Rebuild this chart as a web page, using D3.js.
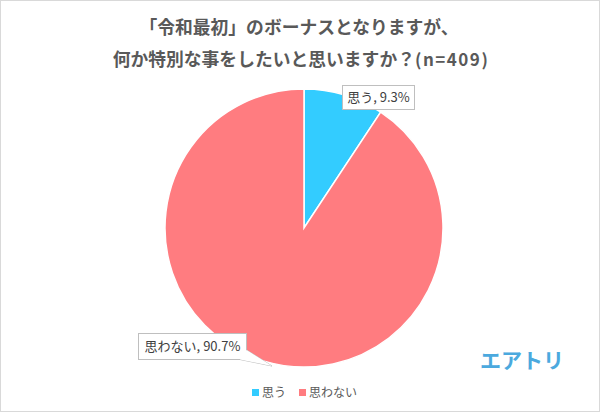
<!DOCTYPE html>
<html><head><meta charset="utf-8">
<script src="https://cdn.jsdelivr.net/npm/d3@7"></script>
<style>body{margin:0;background:#fff}svg{display:block}text{font-family:"Noto Sans CJK JP","Noto Sans",sans-serif}</style>
</head><body><svg id="c" width="601" height="413"></svg>
<script>
const categories = ["思う", "思わない"];
const values = [9.3, 90.7];
const colors = ["#33CCFF", "#FF7C80"];
const titleLines = ["「令和最初」のボーナスとなりますが、", "何か特別な事をしたいと思いますか？"];
const sampleNote = "(n=409)";

const svg = d3.select("#c");
svg.append("rect").attr("x",0.5).attr("y",0.5).attr("width",599).attr("height",411)
  .attr("fill","#fff").attr("stroke","#d9d9d9");

// title
svg.append("text").attr("x",299).attr("y",34).attr("text-anchor","middle")
  .attr("font-size",17.8).attr("font-weight","bold").attr("fill","#595959").text(titleLines[0]);
const t2 = svg.append("text").attr("x",301).attr("y",66).attr("text-anchor","middle")
  .attr("font-weight","bold").attr("fill","#595959");
t2.append("tspan").attr("font-size",17.8).text(titleLines[1]);
t2.append("tspan").attr("font-size",17).attr("letter-spacing",1.5).text(sampleNote);

const cx = 304, cy = 228, r = 139;
const pie = d3.pie().sort(null).value(d => d)(values);
const arc = d3.arc().innerRadius(0).outerRadius(r);
const g = svg.append("g").attr("transform",`translate(${cx},${cy})`);
g.selectAll("path").data(pie).join("path")
  .attr("d",arc).attr("fill",(d,i)=>colors[i]).attr("stroke","#fff").attr("stroke-width",1.5);

// labels
function label(x,y,w,h,text,pointer){
  if(pointer){
    svg.append("path").attr("d",pointer).attr("fill","#fff").attr("stroke","#bfbfbf");
  }
  svg.append("rect").attr("x",x+0.5).attr("y",y+0.5).attr("width",w).attr("height",h)
    .attr("fill","#fff").attr("stroke","#bfbfbf");
  if(pointer){
    svg.append("path").attr("d",pointer.replace(/Z$/,"")).attr("fill","#fff").attr("stroke","none");
  }
  svg.append("text").attr("x",x+w/2+0.5).attr("y",y+h/2+5).attr("text-anchor","middle")
    .attr("font-size",13).attr("fill","#404040").text(text);
}
label(342,85,72,24, `${categories[0]}, ${values[0]}%`);
label(138,333,108,26, `${categories[1]}, ${values[1]}%`,
  "M246.5,350 L272,366 L240,359.5 Z");

// legend
const lg = svg.append("g");
const lx = [252, 299];
categories.forEach((c,i)=>{
  lg.append("rect").attr("x",lx[i]).attr("y",389).attr("width",7).attr("height",7).attr("fill",colors[i]);
  lg.append("text").attr("x",lx[i]+10).attr("y",397).attr("font-size",12).attr("fill","#595959").text(c);
});

// logo
svg.append("text").attr("x",522).attr("y",368).attr("text-anchor","middle")
  .attr("font-size",21).attr("font-weight","bold").attr("fill","#4BA9DE").text("エアトリ");
</script></body></html>
